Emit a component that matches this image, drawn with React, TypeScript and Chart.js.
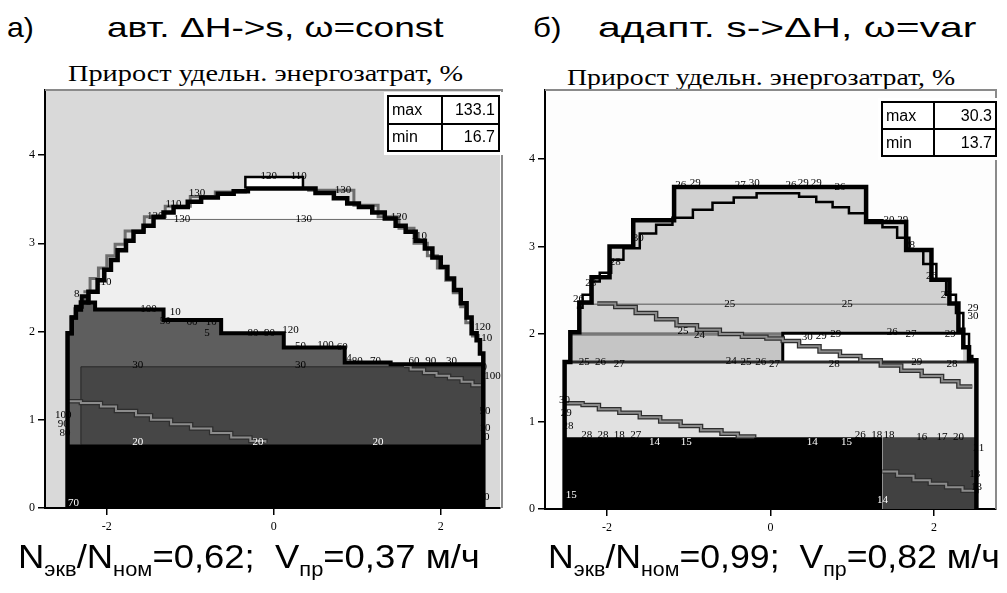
import React, { useEffect, useLayoutEffect, useRef } from "react";
import { Chart, registerables } from "chart.js";
Chart.register(...registerables);

type P = [number, number];
type L = [string, number, number];

// ---------- shared ----------
const xTicks = [-2, 0, 2];
const yTicks = [0, 1, 2, 3, 4];
const subtitle = "Прирост удельн. энергозатрат, %";
const labelA = "а)";
const labelB = "б)";
const titleA = "авт. ΔH->s, ω=const";
const titleB = "адапт. s->ΔH, ω=var";
const statsA: [string, string][] = [["max", "133.1"], ["min", "16.7"]];
const statsB: [string, string][] = [["max", "30.3"], ["min", "13.7"]];
const captionA = ["0,62", "0,37"];
const captionB = ["0,99", "0,82"];

// ---------- panel A data ----------
const domeA: P[] = [[-2.47,0],[-2.47,1.98],[-2.42,2.16],[-2.37,2.25],[-2.31,2.33],[-2.22,2.45],[-2.11,2.58],[-2.03,2.7],[-1.95,2.81],[-1.87,2.92],[-1.77,3.03],[-1.68,3.13],[-1.56,3.2],[-1.44,3.3],[-1.32,3.35],[-1.2,3.41],[-1.03,3.47],[-0.87,3.52],[-0.67,3.56],[-0.48,3.59],[-0.31,3.62],[0.5,3.57],[0.72,3.51],[0.88,3.45],[1.02,3.41],[1.18,3.35],[1.33,3.28],[1.46,3.2],[1.58,3.13],[1.7,3.03],[1.81,2.94],[1.9,2.84],[2.0,2.73],[2.08,2.6],[2.16,2.47],[2.24,2.32],[2.31,2.16],[2.37,1.98],[2.43,1.9],[2.47,1.75],[2.51,0]];
const capA: P[] = [[-1.44,3.3],[-1.32,3.35],[-1.2,3.41],[-1.03,3.47],[-0.87,3.52],[-0.67,3.56],[-0.48,3.59],[-0.31,3.62],[0.5,3.57],[0.72,3.51],[0.88,3.45],[1.02,3.41],[1.18,3.35],[1.33,3.28],[1.46,3.28]];
const line130A: P[] = [[-1.44,3.27],[1.46,3.27]];
const midA: P[] = [[-2.47,1.98],[-2.42,2.16],[-2.37,2.28],[-2.3,2.4],[-2.22,2.33],[-2.14,2.25],[-1.32,2.13],[-0.63,1.98],[0.12,1.82],[0.85,1.65],[1.4,1.63],[2.51,1.63]];
const rect30A: P[] = [[-2.31,0.72],[-2.31,1.6],[2.51,1.6]];
const bottomA: P[] = [[-2.49,0.72],[2.51,0.72]];
const descA1: P[] = [[-2.47,1.21],[-2.31,1.19],[-2.07,1.15],[-1.89,1.1],[-1.65,1.05],[-1.47,1.0],[-1.23,0.95],[-0.99,0.9],[-0.75,0.85],[-0.51,0.8],[-0.28,0.76],[-0.1,0.74]];
const descA2: P[] = [[1.56,1.61],[1.64,1.57],[1.8,1.53],[1.95,1.5],[2.1,1.47],[2.25,1.43],[2.38,1.39],[2.48,1.39]];
const outerAL: P[] = [[-2.28,2.45],[-2.2,2.6],[-2.1,2.72],[-2.0,2.86],[-1.9,2.99],[-1.78,3.14],[-1.55,3.3],[-1.3,3.42],[-1.0,3.53],[-0.7,3.58],[-0.34,3.62]];
const outerAR: P[] = [[0.4,3.6],[0.96,3.43],[1.25,3.3],[1.5,3.17],[1.68,3.0],[1.84,2.86],[1.96,2.72],[2.06,2.58],[2.15,2.44],[2.24,2.28],[2.3,2.1],[2.38,1.95],[2.44,1.95]];
const topBoxA: P[] = [[-0.34,3.62],[-0.34,3.75],[0.35,3.75],[0.35,3.62]];
const labelsAk: L[] = [["120",-0.06,3.76],["110",0.3,3.76],["130",0.83,3.6],["120",1.5,3.3],["110",1.74,3.08],["130",0.36,3.27],["130",-0.92,3.57],["110",-1.2,3.44],["120",-1.42,3.31],["130",-1.1,3.27],["110",-2.04,2.56],["8",-2.36,2.42],["100",-1.5,2.25],["10",-1.18,2.22],["50",-1.3,2.12],["60",-0.98,2.11],["10",-0.75,2.11],["5",-0.8,1.98],["80",-0.25,1.98],["90",-0.05,1.98],["120",0.2,2.02],["50",0.32,1.83],["100",0.62,1.85],["60",0.82,1.82],["4",0.9,1.7],["80",1.0,1.66],["70",1.22,1.66],["60",1.68,1.66],["90",1.88,1.66],["30",2.13,1.66],["120",2.5,2.05],["110",2.52,1.92],["0",2.52,1.6],["100",2.62,1.5],["30",-1.63,1.62],["30",0.32,1.62],["100",-2.52,1.05],["90",-2.52,0.95],["80",-2.5,0.85],["50",2.53,1.1],["10",2.53,0.9],["0",2.55,0.8],["0",2.55,0.12]];
const labelsAw: L[] = [["20",-1.63,0.75],["20",-0.19,0.75],["20",1.25,0.75],["70",-2.4,0.05]];

// ---------- panel B data ----------
const domeB: P[] = [[-2.52,0],[-2.52,1.68],[-2.45,2.02],[-2.34,2.36],[-2.19,2.65],[-1.97,3.0],[-1.68,3.3],[-1.18,3.68],[1.17,3.28],[1.66,2.96],[1.97,2.62],[2.19,2.35],[2.3,2.05],[2.36,1.85],[2.43,1.7],[2.52,0]];
const band20B: P[] = [[-2.45,2.0],[0.15,2.0]];
const line25B: P[] = [[-2.34,2.34],[2.3,2.34]];
const lowB: P[] = [[-2.52,1.68],[2.52,1.68]];
const boxB: P[] = [[0.15,1.68],[0.15,2.01],[2.36,2.01]];
const bottomB: P[] = [[-2.54,0.82],[1.37,0.82]];
const cornerB: P[] = [[1.37,0.82],[2.52,0.82]];
const innerB: P[] = [[-2.37,2.3],[-2.3,2.45],[-2.2,2.6],[-2.09,2.7],[-1.95,2.85],[-1.8,2.98],[-1.6,3.15],[-1.4,3.25],[-1.2,3.33],[-0.95,3.42],[-0.71,3.5],[-0.45,3.56],[-0.17,3.61],[0.35,3.57],[0.56,3.51],[0.76,3.45],[0.96,3.38],[1.17,3.3],[1.37,3.22],[1.55,3.1],[1.7,2.96],[1.87,2.8],[2.03,2.62],[2.15,2.45],[2.27,2.24],[2.36,2.0],[2.43,1.75],[2.47,1.68]];
const descB1: P[] = [[-2.12,2.35],[-1.9,2.31],[-1.65,2.24],[-1.4,2.17],[-1.15,2.1],[-0.9,2.05],[-0.62,2.0],[-0.35,1.97],[-0.05,1.95],[0.15,1.92],[0.35,1.86],[0.6,1.8],[0.85,1.75],[1.1,1.7],[1.35,1.64],[1.6,1.58],[1.85,1.52],[2.1,1.46],[2.3,1.4],[2.47,1.4]];
const descB2: P[] = [[-2.51,1.21],[-2.3,1.19],[-2.1,1.14],[-1.85,1.1],[-1.6,1.05],[-1.35,1.0],[-1.1,0.95],[-0.85,0.9],[-0.6,0.86],[-0.4,0.83],[-0.2,0.82]];
const descB3: P[] = [[1.37,0.43],[1.55,0.38],[1.75,0.33],[1.95,0.29],[2.15,0.25],[2.35,0.21],[2.52,0.18]];
const labelsBk: L[] = [["25",-0.5,2.34],["25",0.94,2.34],["25",-1.07,2.03],["24",-0.87,1.99],["25",-2.28,1.68],["26",-2.08,1.68],["27",-1.85,1.66],["24",-0.48,1.69],["25",-0.3,1.68],["26",-0.12,1.68],["27",0.05,1.66],["30",0.45,1.97],["29",0.62,1.98],["29",0.8,2.0],["26",1.49,2.02],["27",1.72,2.0],["29",2.2,2.0],["28",0.78,1.66],["29",1.79,1.68],["28",2.22,1.66],["29",2.48,2.3],["30",2.48,2.2],["26",-1.1,3.7],["29",-0.92,3.72],["27",-0.37,3.7],["30",-0.2,3.72],["26",0.25,3.7],["29",0.4,3.72],["29",0.56,3.72],["26",0.85,3.68],["30",1.45,3.3],["29",1.62,3.3],["28",1.7,3.02],["26",1.97,2.66],["27",2.15,2.45],["30",-1.62,3.1],["28",-1.9,2.82],["28",-2.2,2.58],["26",-2.35,2.4],["30",-2.52,1.25],["29",-2.5,1.1],["28",-2.48,0.95],["28",-2.25,0.85],["28",-2.05,0.85],["18",-1.85,0.85],["27",-1.65,0.85],["26",1.1,0.84],["18",1.3,0.84],["18",1.45,0.84],["16",1.85,0.82],["17",2.1,0.82],["20",2.3,0.82],["21",2.55,0.7],["13",2.5,0.4],["13",2.52,0.25]];
const labelsBw: L[] = [["14",-1.42,0.77],["15",-1.03,0.77],["14",0.51,0.77],["15",0.93,0.77],["14",1.37,0.1],["15",-2.44,0.16]];

// ---------- helpers ----------
const SERIF = "'Liberation Serif', 'Times New Roman', serif";
const SANS = "'Liberation Sans', Arial, sans-serif";

interface Layer { data: P[]; fill?: string; to?: number; line?: string; width?: number; step?: boolean; }

function datasets(layers: Layer[]) {
  const n = layers.length;
  return layers.map((l, i) => ({
    type: "line" as const,
    data: l.data.map(([x, y]) => ({ x, y })),
    order: n - i,
    borderColor: l.line ?? "rgba(0,0,0,0)",
    borderWidth: l.line ? (l.width ?? 1) : 0,
    backgroundColor: l.fill ?? "rgba(0,0,0,0)",
    fill: l.fill ? (l.to === undefined ? "origin" : { value: l.to }) : false,
    stepped: l.step ? ("before" as const) : false,
    pointRadius: 0,
    tension: 0,
    borderJoinStyle: "miter" as const,
  }));
}

function dbl(data: P[], step = true): Layer[] {
  return [
    { data, line: "#2e2e2e", width: 4.5, step },
    { data, line: "#8c8c8c", width: 2, step },
  ];
}

interface Panel {
  xMin: number; xMax: number; yMax: number; bg: string; frame: string; frameOff: number;
  layers: Layer[]; black: L[]; white: L[]; pad: { left: number; right: number; top: number; bottom: number };
}

function makeConfig(p: Panel): any {
  const frame = {
    id: "frameBg",
    beforeDraw(chart: any) {
      const { ctx, chartArea: a } = chart;
      ctx.save();
      ctx.fillStyle = p.bg;
      ctx.fillRect(a.left, a.top, a.right - a.left, a.bottom - a.top);
      ctx.restore();
    },
    afterDraw(chart: any) {
      const { ctx, chartArea: a } = chart;
      ctx.save();
      ctx.strokeStyle = p.frame;
      ctx.lineWidth = 2;
      ctx.beginPath();
      ctx.moveTo(a.left, a.top);
      ctx.lineTo(a.right + p.frameOff, a.top);
      ctx.lineTo(a.right + p.frameOff, a.bottom);
      ctx.stroke();
      ctx.restore();
    },
  };
  const texts = {
    id: "texts",
    afterDatasetsDraw(chart: any) {
      const { ctx, scales } = chart;
      ctx.save();
      ctx.font = "11px " + SERIF;
      ctx.textAlign = "center";
      ctx.textBaseline = "middle";
      const draw = (arr: L[], col: string) => {
        ctx.fillStyle = col;
        for (const [t, x, y] of arr) ctx.fillText(t, scales.x.getPixelForValue(x), scales.y.getPixelForValue(y));
      };
      draw(p.black, "#000");
      draw(p.white, "#fff");
      ctx.restore();
    },
  };
  const tickFont = { family: SERIF, size: 12 };
  return {
    type: "line",
    data: { datasets: datasets(p.layers) },
    plugins: [frame, texts],
    options: {
      animation: false,
      responsive: false,
      events: [],
      layout: { padding: p.pad },
      plugins: { legend: { display: false }, tooltip: { enabled: false }, title: { display: false } },
      scales: {
        x: {
          type: "linear", min: p.xMin, max: p.xMax, z: 1,
          afterBuildTicks: (ax: any) => { ax.ticks = xTicks.map((v) => ({ value: v })); },
          afterFit: (ax: any) => { ax.height = 32; },
          ticks: { color: "#000", font: tickFont, padding: 5, callback: (v: any) => String(v) },
          grid: { display: true, drawOnChartArea: false, drawTicks: true, tickLength: 7, color: "#000", lineWidth: 1.5 },
          border: { display: true, color: "#000", width: 2 },
        },
        y: {
          type: "linear", min: 0, max: p.yMax, z: 1,
          afterBuildTicks: (ax: any) => { ax.ticks = yTicks.map((v) => ({ value: v })); },
          afterFit: (ax: any) => { ax.width = 40; },
          ticks: { color: "#000", font: tickFont, padding: 3, callback: (v: any) => String(v) },
          grid: { display: true, drawOnChartArea: false, drawTicks: true, tickLength: 7, color: "#000", lineWidth: 1.5 },
          border: { display: true, color: "#000", width: 2 },
        },
      },
    },
  };
}

const panelA: Panel = {
  xMin: -2.74, xMax: 2.71, yMax: 4.737, bg: "#d9d9d9", frame: "#8a8a8a", frameOff: 2,
  pad: { left: 5, right: 5, top: 30, bottom: 0 },
  layers: [
    { data: domeA, fill: "#efefef", step: true },
    { data: capA, fill: "#fcfcfc", to: 3.27, step: true },
    { data: line130A, line: "#6a6a6a", width: 1 },
    { data: midA, fill: "#5e5e5e", step: true },
    { data: rect30A, fill: "#464646", line: "#262626", width: 1 },
    { data: bottomA, fill: "#000000" },
    ...dbl(descA1),
    ...dbl(descA2),
    { data: outerAL, line: "#6e6e6e", width: 3, step: true },
    { data: outerAR, line: "#6e6e6e", width: 3, step: true },
    { data: topBoxA, fill: "#ffffff", to: 3.62, line: "#000", width: 2.5 },
    { data: midA, line: "#000", width: 4, step: true },
    { data: domeA, line: "#000", width: 4.5, step: true },
  ],
  black: labelsAk, white: labelsAw,
};

const panelB: Panel = {
  xMin: -2.76, xMax: 2.76, yMax: 4.789, bg: "#fdfdfd", frame: "#8a8a8a", frameOff: 0,
  pad: { left: 0, right: 6, top: 30, bottom: 0 },
  layers: [
    { data: domeB, fill: "#d1d1d1", step: true },
    { data: band20B, fill: "#c5c5c5", to: 1.68 },
    { data: line25B, line: "#7e7e7e", width: 1.5 },
    { data: band20B, line: "#555", width: 3 },
    { data: band20B, line: "#9a9a9a", width: 1 },
    { data: lowB, fill: "#e1e1e1" },
    { data: boxB, fill: "#ffffff", to: 1.68, line: "#000", width: 3 },
    { data: lowB, line: "#2a2a2a", width: 3 },
    { data: bottomB, fill: "#000000" },
    { data: cornerB, fill: "#414141" },
    ...dbl(descB1),
    ...dbl(descB2),
    ...dbl(descB3),
    { data: innerB, line: "#000", width: 2.5, step: true },
    { data: domeB, line: "#000", width: 4.5, step: true },
  ],
  black: labelsBk, white: labelsBw,
};

// ---------- components ----------
function ChartBox({ panel, left, top, width, height }: { panel: Panel; left: number; top: number; width: number; height: number }) {
  const ref = useRef<HTMLCanvasElement>(null);
  useEffect(() => {
    const c = new Chart(ref.current as HTMLCanvasElement, makeConfig(panel));
    return () => c.destroy();
  }, [panel]);
  return <canvas ref={ref} width={width} height={height} style={{ position: "absolute", left, top, width, height }} />;
}

function Fit({ left, top, width, size, family, children }: any) {
  const ref = useRef<HTMLDivElement>(null);
  useLayoutEffect(() => {
    const el = ref.current as HTMLDivElement;
    el.style.transform = "none";
    const w = el.offsetWidth;
    if (w > 0) el.style.transform = `scaleX(${width / w})`;
  }, [width]);
  return (
    <div ref={ref} style={{ position: "absolute", left, top, whiteSpace: "pre", fontSize: size, lineHeight: `${size}px`, fontFamily: family, transformOrigin: "0 0", color: "#000" }}>
      {children}
    </div>
  );
}

function Stats({ left, top, width, height, split, rows }: { left: number; top: number; width: number; height: number; split: number; rows: [string, string][] }) {
  const cell = { border: "2px solid #000", padding: "0 3px", lineHeight: "1", height: height / rows.length - 2 };
  return (
    <table style={{ position: "absolute", left, top, width, height, borderCollapse: "collapse", tableLayout: "fixed", background: "#fff", fontFamily: SANS, fontSize: 16, boxShadow: "0 0 0 3px #fff" }}>
      <colgroup><col style={{ width: split }} /><col /></colgroup>
      <tbody>
        {rows.map(([k, v]) => (
          <tr key={k}>
            <td style={{ ...cell, textAlign: "left" }}>{k}</td>
            <td style={{ ...cell, textAlign: "right" }}>{v}</td>
          </tr>
        ))}
      </tbody>
    </table>
  );
}

function Caption({ vals }: { vals: string[] }) {
  const sub = { fontSize: "0.6em", verticalAlign: "-0.4em", lineHeight: "1" } as const;
  return (
    <>
      N<span style={sub}>экв</span>/N<span style={sub}>ном</span>={vals[0]};  V<span style={sub}>пр</span>={vals[1]} м/ч
    </>
  );
}

export default function App() {
  return (
    <div style={{ position: "absolute", left: 0, top: 0, width: 1007, height: 593, background: "#fff", overflow: "hidden" }}>
      <Fit left={7} top={14} width={27} size={28} family={SANS}>{labelA}</Fit>
      <Fit left={107} top={14} width={336} size={28} family={SANS}>{titleA}</Fit>
      <Fit left={533} top={14} width={28} size={28} family={SANS}>{labelB}</Fit>
      <Fit left={598} top={14} width={378} size={28} family={SANS}>{titleB}</Fit>
      <Fit left={68} top={62} width={395} size={23} family={SERIF}>{subtitle}</Fit>
      <Fit left={567} top={66} width={388} size={23} family={SERIF}>{subtitle}</Fit>
      <ChartBox panel={panelA} left={0} top={60} width={505} height={480} />
      <ChartBox panel={panelB} left={505} top={60} width={497} height={481} />
      <Stats left={387} top={95} width={113} height={55} split={54} rows={statsA} />
      <Stats left={881} top={101} width={116} height={54} split={52} rows={statsB} />
      <Fit left={18} top={539} width={462} size={34} family={SANS}><Caption vals={captionA} /></Fit>
      <Fit left={548} top={539} width={452} size={34} family={SANS}><Caption vals={captionB} /></Fit>
    </div>
  );
}
